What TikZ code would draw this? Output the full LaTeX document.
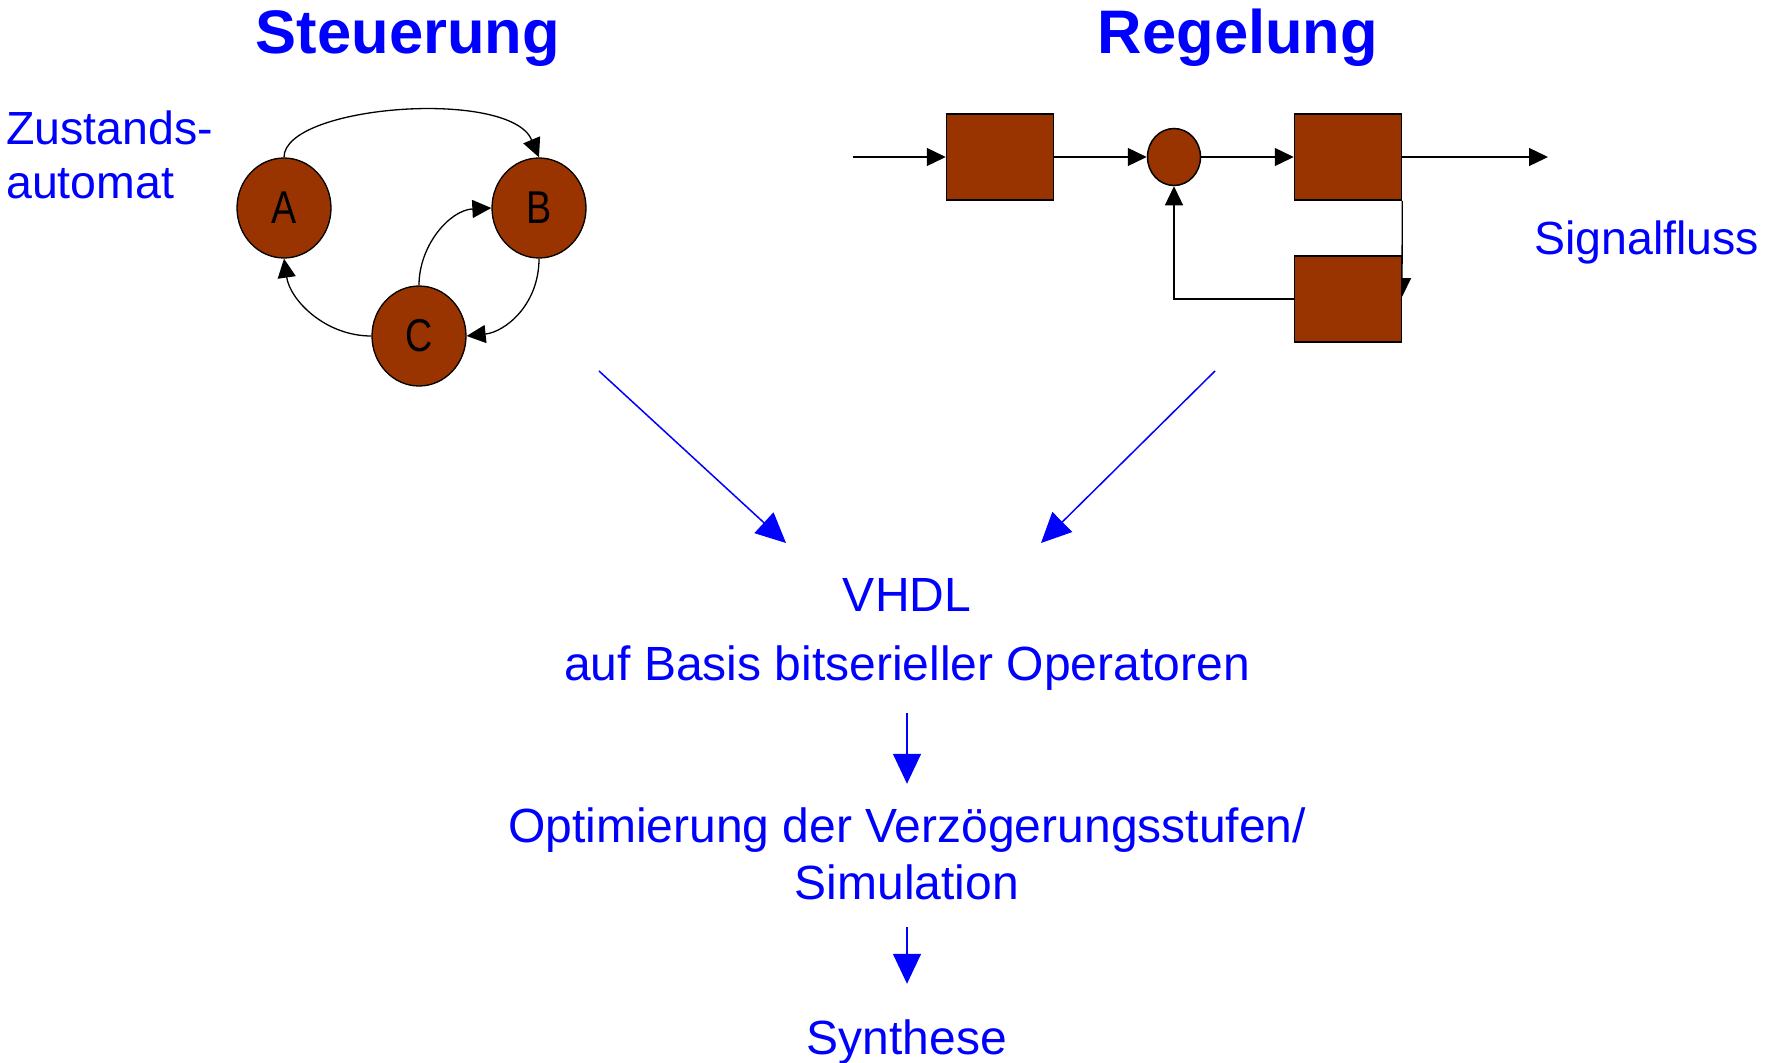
\documentclass[tikz,border=0pt]{standalone}
\usepackage{fontspec}
\setmainfont{Liberation Sans}
\newfontfamily\narrowsf[FakeStretch=0.82]{Liberation Sans}
\usetikzlibrary{shapes.geometric,arrows.meta}
\definecolor{rust}{RGB}{153,51,0}
\definecolor{pureblue}{RGB}{0,0,255}

\begin{document}
\begin{tikzpicture}[x=1pt,y=-1pt,
  txt/.style={text=pureblue, font=\fontsize{46.5}{54}\selectfont, inner sep=0pt},
  steptxt/.style={text=pureblue, font=\fontsize{48}{56}\selectfont, inner sep=0pt,
    anchor=base, text height=36pt, text depth=10pt},
  title/.style={text=pureblue, font=\fontsize{61.5}{70}\selectfont\bfseries, inner sep=0pt, anchor=base},
  state/.style={ellipse, draw=black, line width=1.3pt, fill=rust, minimum width=94pt,
    minimum height=100pt, inner sep=0pt, font=\narrowsf\fontsize{46}{50}\selectfont},
  block/.style={rectangle, draw=black, line width=1.5pt, fill=rust, minimum width=107pt,
    minimum height=86pt, inner sep=0pt},
  sig/.style={draw=black, line width=1.3pt, -{Triangle[length=19pt,width=18pt]}},
  flow/.style={draw=pureblue, line width=1.5pt, -{Triangle[length=30pt,width=28pt]}},
]
\useasboundingbox (0,0) rectangle (1773,1063);
\fill[white] (0,0) rectangle (1773,1063);

% titles
\node[title] (steu) at (408,53) {Steuerung};
\node[title] (regel) at (1238,53) {Regelung};

% state machine
\node[txt, anchor=base west] (zust1) at (6,144) {Zustands-};
\node[txt, anchor=base west] (zust2) at (6,198) {automat};
\node[state] (A) at (284,208) {A};
\node[state] (B) at (539,208) {B};
\node[state] (C) at (419,336) {C};
\draw[sig] (A.north) .. controls (284,105) and (510,88) .. (B.north);
\draw[sig] (B.south) .. controls (539,305) and (505,332) .. (C.east);
\draw[sig] (C.north) .. controls (419,245) and (450,210) .. (B.west);
\draw[sig] (C.west) .. controls (325,336) and (290,300) .. (A.south);

% signal flow with feedback
\node[block] (b1) at (1000,157) {};
\node[ellipse, draw=black, line width=1.5pt, fill=rust, minimum width=53pt,
  minimum height=57pt, inner sep=0pt] (sum) at (1174,157) {};
\node[block] (b2) at (1348,157) {};
\coordinate (in) at (853,157);
\coordinate (out) at (1548,157);
\draw[sig] (in) -- (b1.west);
\draw[sig] (b1.east) -- (sum.west);
\draw[sig] (sum.east) -- (b2.west);
\draw[sig] (b2.east) -- (out);
\coordinate (fbtip) at (1402,297);
\draw[sig] (b2.south east) -- (fbtip);
\node[block] (b3) at (1348,299) {};
\draw[sig] (b3.west) -| (sum.south);
\node[txt, anchor=base west] (sigfl) at (1534,254) {Signalfluss};

% design flow
\coordinate (lfrom) at (599,371);
\coordinate (lto) at (786,543);
\coordinate (rfrom) at (1215,371);
\coordinate (rto) at (1041,543);
\draw[flow] (lfrom) -- (lto);
\draw[flow] (rfrom) -- (rto);
\node[steptxt] (vhdl) at (907,611) {VHDL};
\node[steptxt] (basis) at (907,680) {auf Basis bitserieller Operatoren};
\node[steptxt] (opt) at (907,842) {Optimierung der Verzögerungsstufen/};
\node[steptxt] (sim) at (907,899) {Simulation};
\node[steptxt] (syn) at (907,1054) {Synthese};
\draw[flow, shorten <=23pt, shorten >=22pt] (basis.south) -- (opt.north);
\draw[flow, shorten <=18pt, shorten >=34pt] (sim.south) -- (syn.north);
\end{tikzpicture}
\end{document}
